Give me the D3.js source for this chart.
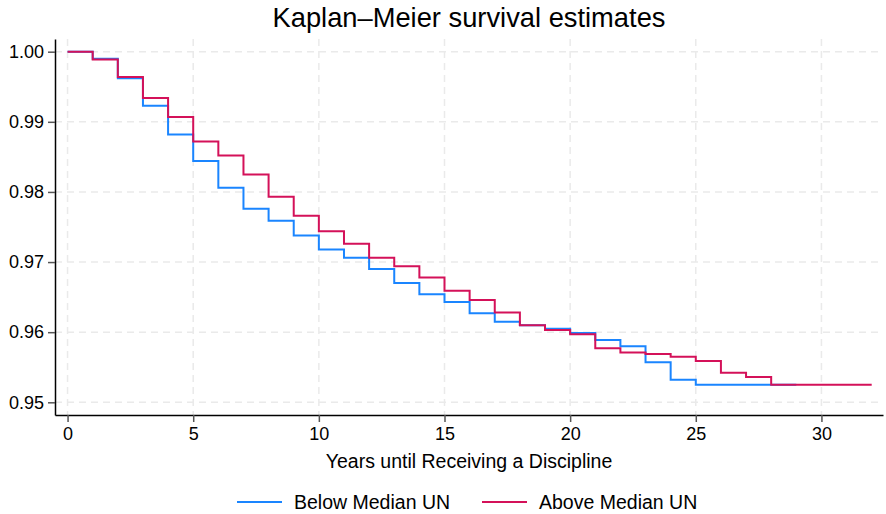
<!DOCTYPE html>
<html>
<head>
<meta charset="utf-8">
<script src="https://cdn.jsdelivr.net/npm/d3@7"></script>
<style>
  body { margin: 0; background: #fff; }
  text { font-family: "Liberation Sans", Arial, sans-serif; fill: #000; }
</style>
</head>
<body>
<div id="chart"></div>
<script>
var seriesNames = ["Below Median UN", "Above Median UN"];
var seriesColors = ["#1a85ff", "#d41159"];

var belowYears = [0, 1, 2, 3, 4, 5, 6, 7, 8, 9, 10, 11, 12, 13, 14, 15, 16, 17, 18, 19, 20, 21, 22, 23, 24, 25, 26, 27, 28, 29];
var belowSurv = [1.0000, 0.9990, 0.9962, 0.9923, 0.9882, 0.9844, 0.9806, 0.9776, 0.9759, 0.9738,
                 0.9718, 0.9706, 0.9690, 0.9670, 0.9654, 0.9643, 0.9627, 0.9615, 0.9610, 0.9605,
                 0.9599, 0.9589, 0.9580, 0.9557, 0.9532, 0.9525, 0.9525, 0.9525, 0.9525, 0.9525];

var aboveYears = [0, 1, 2, 3, 4, 5, 6, 7, 8, 9, 10, 11, 12, 13, 14, 15, 16, 17, 18, 19, 20, 21, 22, 23, 24, 25, 26, 27, 28, 29, 30, 31, 32];
var aboveSurv = [1.0000, 0.9989, 0.9964, 0.9934, 0.9907, 0.9872, 0.9852, 0.9825, 0.9793, 0.9766,
                 0.9744, 0.9726, 0.9706, 0.9694, 0.9678, 0.9659, 0.9646, 0.9628, 0.9610, 0.9603,
                 0.9597, 0.9577, 0.9571, 0.9569, 0.9565, 0.9559, 0.9542, 0.9536, 0.9525, 0.9525,
                 0.9525, 0.9525, 0.9525];

var xTicks = [0, 5, 10, 15, 20, 25, 30];
var yTicks = [0.95, 0.96, 0.97, 0.98, 0.99, 1.00];

function drawKM() {
  var W = 886, H = 514;
  var left = 55, right = 883, top = 39, bottom = 415;

  var svg = d3.select("#chart")
    .append("svg")
    .attr("width", W)
    .attr("height", H);

  var x = d3.scaleLinear().domain([-0.5, 32.45]).range([left, right]);
  var y = d3.scaleLinear().domain([0.94819, 1.00181]).range([bottom, top]);

  // grid
  svg.append("g").selectAll("line.gx")
    .data(xTicks)
    .enter()
    .append("line")
    .attr("x1", d => x(d)).attr("x2", d => x(d))
    .attr("y1", top).attr("y2", bottom)
    .attr("stroke", "#eaeaea")
    .attr("stroke-width", 1.5)
    .attr("stroke-dasharray", "7,5");

  svg.append("g").selectAll("line.gy")
    .data(yTicks)
    .enter()
    .append("line")
    .attr("x1", left).attr("x2", right)
    .attr("y1", d => y(d)).attr("y2", d => y(d))
    .attr("stroke", "#eaeaea")
    .attr("stroke-width", 1.5)
    .attr("stroke-dasharray", "7,5");

  // axes
  var xAxis = svg.append("g")
    .attr("transform", "translate(0," + bottom + ")")
    .call(d3.axisBottom(x).tickValues(xTicks).tickSize(7).tickSizeOuter(0).tickPadding(5));
  var yAxis = svg.append("g")
    .attr("transform", "translate(" + left + ",0)")
    .call(d3.axisLeft(y).tickValues(yTicks).tickFormat(d3.format(".2f")).tickSize(7).tickSizeOuter(0).tickPadding(4));

  [xAxis, yAxis].forEach(function(a) {
    a.select(".domain").attr("stroke", "#000").attr("stroke-width", 1.5);
    a.selectAll(".tick line").attr("stroke", "#555").attr("stroke-width", 1.5);
    a.selectAll(".tick text").attr("font-size", "18px").attr("fill", "#000")
      .style("font-family", "'Liberation Sans', Arial, sans-serif");
  });

  // survival curves
  var line = d3.line()
    .x(d => x(d[0]))
    .y(d => y(d[1]))
    .curve(d3.curveStepAfter);

  var series = [
    d3.zip(belowYears, belowSurv),
    d3.zip(aboveYears, aboveSurv)
  ];

  svg.append("g").selectAll("path")
    .data(series)
    .enter()
    .append("path")
    .attr("d", line)
    .attr("fill", "none")
    .attr("stroke", (d, i) => seriesColors[i])
    .attr("stroke-width", 2);

  // title and labels
  svg.append("text")
    .attr("x", (left + right) / 2)
    .attr("y", 27)
    .attr("text-anchor", "middle")
    .attr("font-size", "27.3px")
    .text("Kaplan\u2013Meier survival estimates");

  svg.append("text")
    .attr("x", (left + right) / 2)
    .attr("y", 468)
    .attr("text-anchor", "middle")
    .attr("font-size", "19.5px")
    .text("Years until Receiving a Discipline");

  // legend
  var legendX = [237, 482];
  var legend = svg.append("g").selectAll("g")
    .data(seriesNames)
    .enter()
    .append("g")
    .attr("transform", (d, i) => "translate(" + legendX[i] + ",502)");

  legend.append("line")
    .attr("x1", 0).attr("x2", 45)
    .attr("stroke", (d, i) => seriesColors[i])
    .attr("stroke-width", 2);

  legend.append("text")
    .attr("x", 57)
    .attr("y", 7)
    .attr("font-size", "19.5px")
    .text(d => d);
}

document.addEventListener('DOMContentLoaded', function() {
  drawKM();
});
</script>
</body>
</html>
